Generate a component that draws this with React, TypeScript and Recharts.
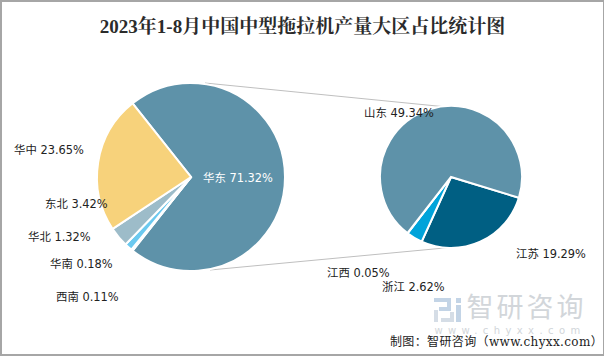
import { PieChart, Pie, Cell } from 'recharts';

const regionNames = ['华东', '西南', '华南', '华北', '东北', '华中'];
const regionValues = [71.32, 0.11, 0.18, 1.32, 3.42, 23.65];
const regionColors = ['#5e92a9', '#5e92a9', '#0e5f80', '#6cc9ef', '#9dbcc9', '#f7d27b'];

const provinceNames = ['江苏', '浙江', '江西', '山东'];
const provinceValues = [19.29, 2.62, 0.05, 49.34];
const provinceColors = ['#005f83', '#00a3da', '#5e92a9', '#5e92a9'];

const regionData = regionNames.map((name, i) => ({ name, value: regionValues[i] }));
const provinceData = provinceNames.map((name, i) => ({ name, value: provinceValues[i] }));

// label anchor points, chart pixels
const labelSpots: Record<string, [number, number, string]> = {
  华东: [203, 182, '#fff'],
  华中: [14, 154, '#222'],
  东北: [45, 208, '#222'],
  华北: [28, 241, '#222'],
  华南: [50, 268, '#222'],
  西南: [56, 301, '#222'],
  山东: [364, 117, '#222'],
  江苏: [516, 258, '#222'],
  江西: [327, 277, '#222'],
  浙江: [382, 291, '#222'],
};

const labelFont = '"DejaVu Sans", "Noto Sans CJK SC", sans-serif';

const renderLabel = (props: any) => {
  const [x, y, fill] = labelSpots[props.name];
  return (
    <text key={props.name} x={x} y={y} fill={fill} fontSize={11.4} fontFamily={labelFont} textAnchor="start">
      {props.name} {props.value.toFixed(2)}%
    </text>
  );
};

export default function App() {
  return (
    <div
      style={{
        position: 'absolute',
        left: 0,
        top: 0,
        width: 604,
        height: 356,
        boxSizing: 'border-box',
        borderTop: '2px solid #a6a6a6',
        borderLeft: '2px solid #a6a6a6',
        borderBottom: '2px solid #a6a6a6',
        borderRight: '1px solid #a6a6a6',
        background: '#fff',
        overflow: 'hidden',
      }}
    >
      <div style={{ position: 'absolute', left: -2, top: -2 }}>
        <PieChart width={604} height={356} margin={{ top: 0, right: 0, bottom: 0, left: 0 }}>
          <text x={302.5} y={32.5} textAnchor="middle" fontSize={19} fontWeight={700} fontFamily='"Liberation Serif", "Noto Serif CJK SC", "Noto Sans CJK SC", serif' fill="#2b2b2b">
            2023年1-8月中国中型拖拉机产量大区占比统计图
          </text>
          <line x1={205} y1={83} x2={447} y2={107} stroke="#bfbfbf" strokeWidth={1} />
          <line x1={210} y1={270} x2={455} y2={247} stroke="#bfbfbf" strokeWidth={1} />
          <Pie
            data={regionData}
            dataKey="value"
            nameKey="name"
            cx={191}
            cy={177}
            outerRadius={94}
            startAngle={128.4}
            endAngle={-231.6}
            stroke="#fff"
            strokeWidth={2}
            label={renderLabel}
            labelLine={false}
            isAnimationActive={false}
          >
            {regionData.map((d, i) => (
              <Cell key={d.name} fill={regionColors[i]} />
            ))}
          </Pie>
          <Pie
            data={provinceData}
            dataKey="value"
            nameKey="name"
            cx={451}
            cy={177}
            outerRadius={71}
            startAngle={-17}
            endAngle={-377}
            stroke="#fff"
            strokeWidth={2}
            label={renderLabel}
            labelLine={false}
            isAnimationActive={false}
          >
            {provinceData.map((d, i) => (
              <Cell key={d.name} fill={provinceColors[i]} />
            ))}
          </Pie>
          {/* watermark logo */}
          <path d="M434 298h17v13h-12v-4h8v-5h-13z" fill="#c3d4e6" />
          <path d="M434 310h4v12h-4zM441 318h13v4h-13zM450 312h4v6h-4z" fill="#d5dde6" />
          <path d="M456 298h5v5h-5zM456 305h5v17h-5z" fill="#c3d4e6" />
          <text x={526.5} y={317} textAnchor="middle" fontSize={27} fontFamily='"Noto Sans CJK SC", sans-serif' fill="#d2d6da" letterSpacing={3}>
            智研咨询
          </text>
          <text x={510} y={334} textAnchor="middle" fontSize={10} fontFamily='"DejaVu Sans", sans-serif' fill="#d2d6da" letterSpacing={5.4}>
            www.chyxx.com
          </text>
          <text x={390} y={346} fontSize={12} letterSpacing={0.36} fontFamily='"DejaVu Serif", "Noto Sans CJK SC", serif' fill="#222">
            制图：智研咨询（www.chyxx.com）
          </text>
        </PieChart>
      </div>
    </div>
  );
}
